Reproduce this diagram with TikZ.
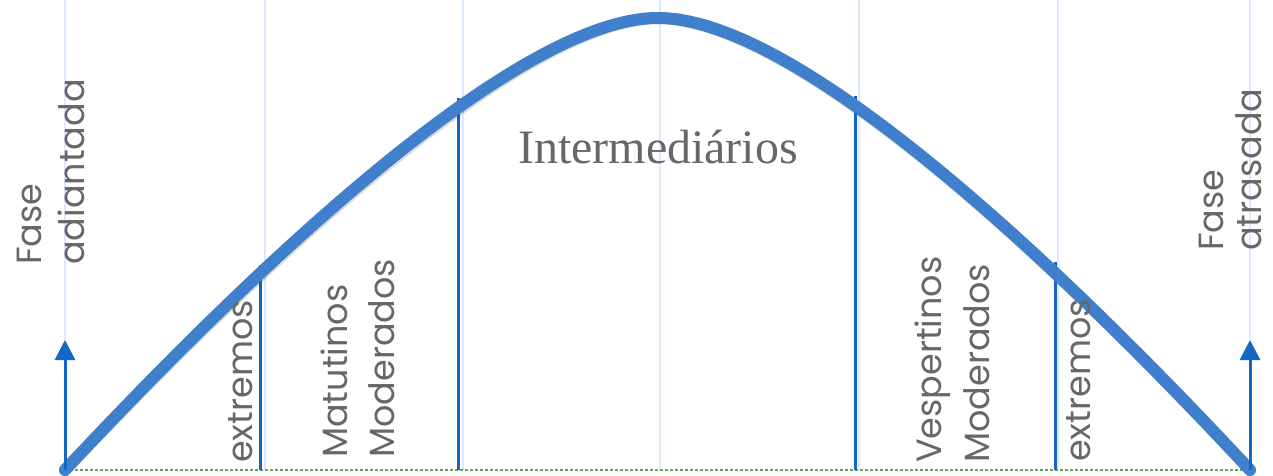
\documentclass[tikz,border=0pt]{standalone}
\usepackage{fontspec}
\setmainfont{Poppins}
\newfontfamily\serifb{Liberation Serif}
\usetikzlibrary{arrows.meta}
\definecolor{curveblue}{HTML}{3F7FCB}
\definecolor{darkblue}{HTML}{1466C6}
\definecolor{lightblue}{HTML}{DCE9FF}
\definecolor{dotgreen}{HTML}{4CAF50}
\definecolor{txtgray}{HTML}{676767}
\begin{document}
\begin{tikzpicture}[x=1pt,y=-1pt,
  grid/.style={draw=lightblue, line width=1.5pt},
  divider/.style={draw=darkblue, line width=3pt},
  phasearrow/.style={draw=darkblue, line width=3pt, -{Triangle[width=20pt,length=20pt]}},
  bell/.style={draw=curveblue, line width=12pt, line cap=round},
  bellshadow/.style={draw=black, opacity=0.15, line width=12pt, line cap=round},
  baseline/.style={draw=dotgreen, line width=2pt, dash pattern=on 2.5pt off 2.5pt},
  vlabel/.style={rotate=90, inner sep=0pt, text=txtgray, align=left, anchor=south west},
]
\useasboundingbox (0,0) rectangle (1273,476);
% light grid lines
\coordinate (g1t) at (65,0);   \coordinate (g1b) at (65,340);
\coordinate (g2t) at (265,0);  \coordinate (g2b) at (265,470);
\coordinate (g3t) at (463,0);  \coordinate (g3b) at (463,470);
\coordinate (g4t) at (660,0);  \coordinate (g4b) at (660,470);
\coordinate (g5t) at (859,0);  \coordinate (g5b) at (859,470);
\coordinate (g6t) at (1058,0); \coordinate (g6b) at (1058,470);
\coordinate (g7t) at (1250,0); \coordinate (g7b) at (1250,340);
\foreach \i in {1,...,7} {\draw[grid] (g\i t) -- (g\i b);}
% baseline
\coordinate (L) at (65,470);
\coordinate (R) at (1250,470);
\draw[baseline] (L) -- (R);
% dividers
\coordinate (d1t) at (260,265);  \coordinate (d1b) at (260,470);
\coordinate (d2t) at (458,98);   \coordinate (d2b) at (458,470);
\coordinate (d3t) at (855,96);   \coordinate (d3b) at (855,470);
\coordinate (d4t) at (1055,262); \coordinate (d4b) at (1055,470);
\foreach \i in {1,...,4} {\draw[divider] (d\i t) -- (d\i b);}
% bell curve
\coordinate (P) at (658,18);
\draw[bellshadow, shift={(1.5,2.5)}] (L) .. controls (265,256) and (520,18) .. (P)
   .. controls (796,18) and (1051,256) .. (R);
\draw[bell] (L) .. controls (265,256) and (520,18) .. (P)
   .. controls (796,18) and (1051,256) .. (R);
% arrows
\coordinate (A1) at (65,340);
\coordinate (A2) at (1250,340);
\draw[phasearrow] (L) -- (A1);
\draw[phasearrow] (R) -- (A2);
% labels
\node[vlabel, font=\fontsize{35}{43}\selectfont] (fa) at (85,265) {Fase\\adiantada};
\node[vlabel, font=\fontsize{35}{38}\selectfont] (fb) at (1262,251) {Fase\\atrasada};
\node[vlabel, font=\fontsize{35}{43}\selectfont, anchor=base west] (ex1) at (252,463) {extremos};
\node[vlabel, font=\fontsize{35}{47}\selectfont] (mm) at (395,458) {Matutinos\\Moderados};
\node[vlabel, font=\fontsize{35}{48}\selectfont] (vm) at (990,463) {Vespertinos\\Moderados};
\node[vlabel, font=\fontsize{35}{43}\selectfont, anchor=base west] (ex2) at (1090,462) {extremos};
\node[inner sep=0pt, anchor=base, text=txtgray, font=\serifb\fontsize{48}{56}\selectfont] (im) at (658,163) {Intermediários};
\end{tikzpicture}
\end{document}
